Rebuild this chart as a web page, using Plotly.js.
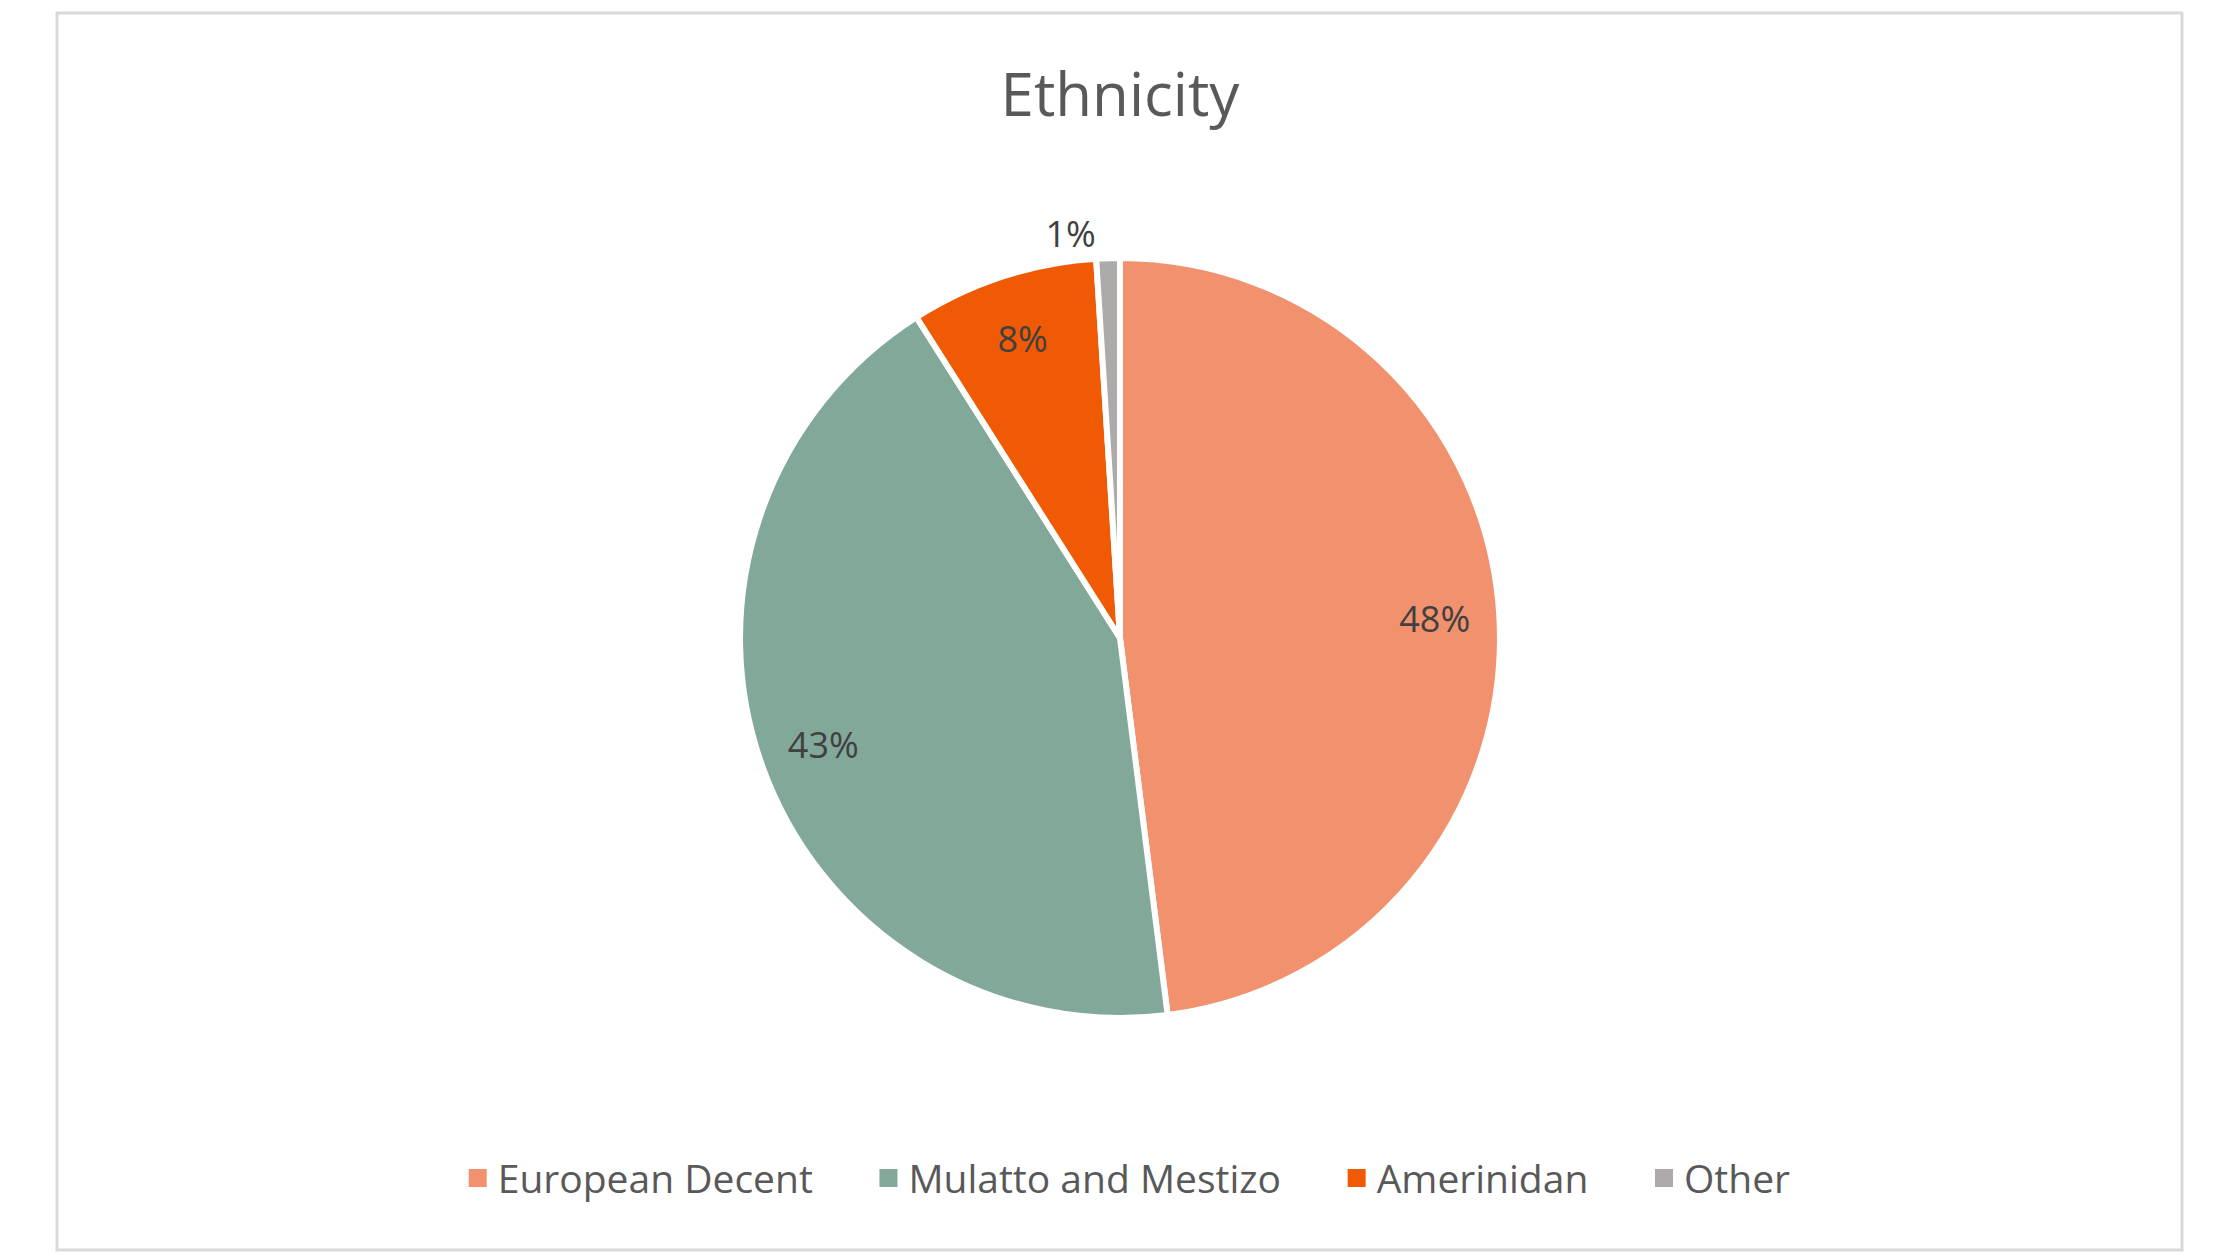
<!DOCTYPE html>
<html>
<head>
<meta charset="utf-8">
<script src="https://cdn.plot.ly/plotly-3.0.1.min.js"></script>
<style>
  html, body { margin: 0; padding: 0; background: #ffffff; }
  #chart { width: 2240px; height: 1260px; }
</style>
</head>
<body>
<div id="chart"></div>
<script>
// chart values
const groups = ["European Decent", "Mulatto and Mestizo", "Amerinidan", "Other"]
const shares = [48, 43, 8, 1]
const sliceColors = ["#F1916D", "#82A89A", "#F05A04", "#AEAAAA"]
// which slices get their label outside the pie (the tiny one)
const labelOutside = [false, false, false, true]

const chartFont = "'Open Sans', 'Liberation Sans', sans-serif"
const pieDomain = {x: [0.3295, 0.6705], y: [0.1921, 0.7952]}

// Excel spreads the legend entries wider than plotly does, pad the names a bit
const legendPad = '\u00a0'.repeat(5)
const legendNames = groups.map((g, i) => i < groups.length - 1 ? g + legendPad : g)

// the coloured pie, carries the legend and the one outside label
const pieTrace = {
    type: 'pie',
    labels: legendNames,
    values: shares,
    sort: false,
    direction: 'clockwise',
    rotation: 0,
    marker: {
        colors: sliceColors,
        line: {color: '#ffffff', width: 6}
    },
    texttemplate: labelOutside.map(o => o ? '%{percent:.0%}' : ''),
    textposition: labelOutside.map(o => o ? 'outside' : 'none'),
    textfont: {family: chartFont, size: 36, color: '#404040'},
    domain: pieDomain
}

// transparent ring on top, only there so the inside labels sit out near the rim
const labelTrace = {
    type: 'pie',
    labels: legendNames,
    values: shares,
    sort: false,
    direction: 'clockwise',
    rotation: 0,
    hole: 0.66,
    showlegend: false,
    marker: {
        colors: shares.map(() => 'rgba(0,0,0,0)'),
        line: {width: 0}
    },
    texttemplate: labelOutside.map(o => o ? '' : '%{percent:.0%}'),
    textposition: labelOutside.map(o => o ? 'none' : 'inside'),
    insidetextorientation: 'horizontal',
    textfont: {family: chartFont, size: 36, color: '#404040'},
    domain: pieDomain
}

const layout = {
    width: 2240,
    height: 1260,
    margin: {l: 0, r: 0, t: 0, b: 0},
    paper_bgcolor: '#ffffff',
    font: {family: chartFont, color: '#595959'},
    title: {
        text: 'Ethnicity',
        font: {family: chartFont, size: 60, color: '#595959'},
        x: 0.5,
        xanchor: 'center',
        y: 0.925,
        yanchor: 'middle'
    },
    showlegend: true,
    legend: {
        orientation: 'h',
        x: 0.503,
        xanchor: 'center',
        y: 0.065,
        yanchor: 'middle',
        font: {family: chartFont, size: 39, color: '#595959'},
        itemclick: false
    },
    // outer chart-area border
    shapes: [{
        type: 'rect',
        xref: 'paper', yref: 'paper',
        x0: 57 / 2240, x1: 2182 / 2240,
        y0: 1 - 1250 / 1260, y1: 1 - 13 / 1260,
        line: {color: '#d9d9d9', width: 3},
        fillcolor: 'rgba(0,0,0,0)'
    }]
}

Plotly.newPlot('chart', [pieTrace, labelTrace], layout, {displayModeBar: false, staticPlot: true})
    .then(() => {
        // the white slice border eats the legend squares, give them back their size
        document.querySelectorAll('.legendpie').forEach(p => {
            p.setAttribute('d', 'M9,9H-9V-9H9Z')
            p.style.strokeWidth = '0'
        })
    })
</script>
</body>
</html>
